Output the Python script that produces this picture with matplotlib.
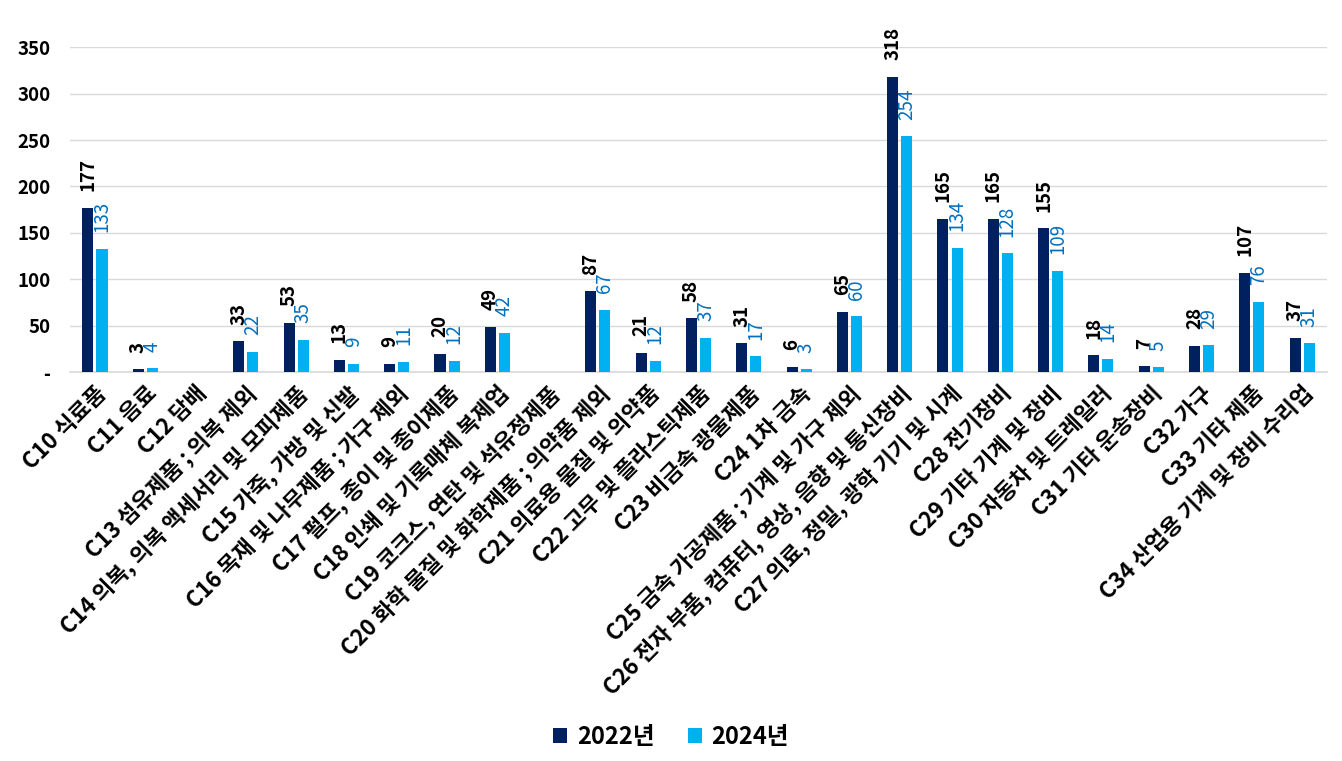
import matplotlib
matplotlib.use("Agg")
import matplotlib.pyplot as plt
import numpy as np

plt.rcParams['font.family'] = ['Noto Sans CJK KR', 'DejaVu Sans']

categories = [
    "C10 식료품", "C11 음료", "C12 담배", "C13 섬유제품 ; 의복 제외",
    "C14 의복, 의복 액세서리 및 모피제품", "C15 가죽, 가방 및 신발",
    "C16 목재 및 나무제품 ; 가구 제외", "C17 펄프, 종이 및 종이제품",
    "C18 인쇄 및 기록매체 복제업", "C19 코크스, 연탄 및 석유정제품",
    "C20 화학 물질 및 화학제품 ; 의약품 제외", "C21 의료용 물질 및 의약품",
    "C22 고무 및 플라스틱제품", "C23 비금속 광물제품", "C24 1차 금속",
    "C25 금속 가공제품 ; 기계 및 가구 제외",
    "C26 전자 부품, 컴퓨터, 영상, 음향 및 통신장비",
    "C27 의료, 정밀, 광학 기기 및 시계", "C28 전기장비", "C29 기타 기계 및 장비",
    "C30 자동차 및 트레일러", "C31 기타 운송장비", "C32 가구", "C33 기타 제품",
    "C34 산업용 기계 및 장비 수리업",
]
values_2022 = [177, 3, 0, 33, 53, 13, 9, 20, 49, 0, 87, 21, 58, 31, 6, 65, 318,
               165, 165, 155, 18, 7, 28, 107, 37]
values_2024 = [133, 4, 0, 22, 35, 9, 11, 12, 42, 0, 67, 12, 37, 17, 3, 60, 254,
               134, 128, 109, 14, 5, 29, 76, 31]
series_names = ["2022년", "2024년"]
y_ticks = [0, 50, 100, 150, 200, 250, 300, 350]
y_tick_labels = ["-", "50", "100", "150", "200", "250", "300", "350"]

c_dark = "#002060"
c_light = "#00B0F0"
c_lab2 = "#0070C0"

fig = plt.figure(figsize=(13.42, 7.61), dpi=100)
ax = fig.add_axes([0.052, 0.511, 0.937, 0.427])

x = np.arange(len(categories))
w = 0.22
off = 0.14
b1 = ax.bar(x - off, values_2022, w, color=c_dark, label=series_names[0], zorder=3)
b2 = ax.bar(x + off, values_2024, w, color=c_light, label=series_names[1], zorder=3)

for xi, v in zip(x, values_2022):
    if v:
        ax.annotate(str(v), (xi - off, v), xytext=(0, 12), textcoords="offset points",
                    rotation=90, ha="center", va="bottom", fontsize=13.5,
                    fontweight="bold", color="black")
for xi, v in zip(x, values_2024):
    if v:
        ax.annotate(str(v), (xi + off, v), xytext=(0, 12), textcoords="offset points",
                    rotation=90, ha="center", va="bottom", fontsize=13.5,
                    color=c_lab2)

ax.set_xlim(-0.5, len(categories) - 0.5)
ax.set_ylim(0, 350)
ax.set_yticks(y_ticks)
ax.set_yticklabels(y_tick_labels, fontsize=13.5, fontweight="bold")
ax.set_xticks(x)
ax.set_xticklabels(categories, rotation=45, ha="right", rotation_mode="anchor",
                   fontsize=16, fontweight="bold")
ax.tick_params(axis="both", length=0)
ax.tick_params(axis="y", pad=14)
ax.tick_params(axis="x", pad=7)
ax.yaxis.grid(True, color="#D9D9D9", linewidth=1, zorder=0)
for s in ["top", "right", "left"]:
    ax.spines[s].set_visible(False)
ax.spines["bottom"].set_color("#D9D9D9")
ax.spines["bottom"].set_linewidth(1.2)

fig.legend(handles=[b1, b2], labels=series_names, loc="center",
           bbox_to_anchor=(0.5, 0.032), ncol=2, frameon=False,
           prop={"size": 17, "weight": "bold"}, handlelength=0.6,
           handleheight=0.6, handletextpad=0.4, columnspacing=1.4)

fig.savefig("out.png", dpi=100)
